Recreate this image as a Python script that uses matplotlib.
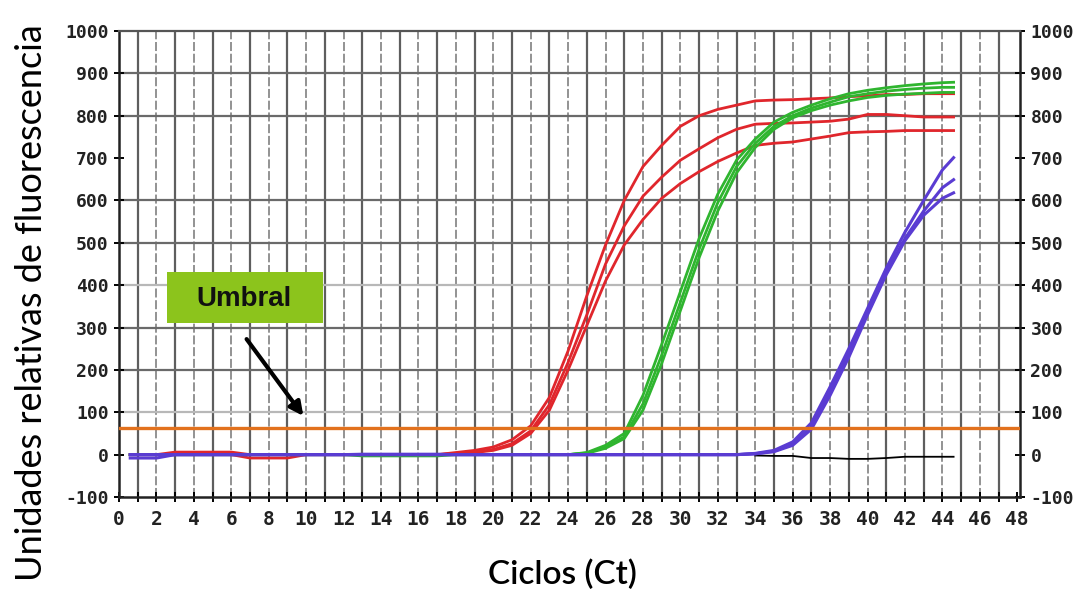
import matplotlib
matplotlib.use('Agg')
import matplotlib.pyplot as plt
from matplotlib.patches import Rectangle

plt.rcParams['axes.unicode_minus'] = False

# ciclos (0.6 = primer punto, 44.6 = ultimo)
cycles = [0.6] + list(range(1, 45)) + [44.6]

red_a = [0, 0, 0, 6, 6, 6, 6, 0, 0, 0, 0, 0, 0, 0, 0, 0, 0, 0,
         5, 10, 18, 35, 68, 135, 245, 375, 495, 600, 680, 730, 775, 800,
         815, 825, 835, 837, 838, 840, 842, 845, 847, 850, 850, 852, 852, 852]
red_b = [0, 0, 0, 0, 0, 0, 0, -8, -8, -8, 0, 0, 0, 0, 0, 0, 0, 0,
         3, 6, 12, 26, 56, 118, 218, 330, 450, 540, 610, 655, 695, 722,
         748, 768, 780, 782, 783, 785, 787, 792, 803, 803, 800, 797, 797, 797]
red_c = [0, 0, 0, 0, 0, 0, 0, 0, 0, 0, 0, 0, 0, 0, 0, 0, 0, 0,
         2, 5, 10, 22, 50, 105, 200, 305, 410, 495, 555, 605, 640, 668,
         692, 712, 730, 735, 738, 745, 752, 760, 762, 763, 765, 765, 765, 765]

green_a = [0, 0, 0, 0, 0, 0, 0, 0, 0, 0, 0, 0, 0, -3, -3, -3, -3, -3,
           0, 0, 0, 0, 0, 0, 0, 5, 22, 50, 140, 260, 385, 510,
           615, 695, 745, 785, 808, 825, 840, 852, 860, 866, 871, 875, 878, 879]
green_b = [0, 0, 0, 0, 0, 0, 0, 0, 0, 0, 0, 0, 0, 0, 0, 0, 0, 0,
           0, 0, 0, 0, 0, 0, 0, 4, 18, 42, 120, 235, 360, 485,
           595, 680, 735, 775, 800, 818, 832, 845, 852, 858, 862, 865, 867, 867]
green_c = [0, 0, 0, 0, 0, 0, 0, 0, 0, 0, 0, 0, 0, 0, 0, 0, 0, 0,
           0, 0, 0, 0, 0, 0, 0, 3, 15, 38, 105, 215, 340, 465,
           575, 665, 725, 768, 795, 812, 825, 835, 843, 848, 851, 853, 855, 855]

purple_a = [-8, -8, -8, 0, 0, 0, 0, 0, 0, 0, 0, 0, 0, 1, 1, 1, 1, 1,
            0, 0, 0, 0, 0, 0, 0, 0, 0, 0, 0, 0, 0, 0,
            0, 0, 3, 10, 30, 75, 160, 250, 345, 440, 525, 600, 672, 701]
purple_b = [0, 0, 0, 0, 0, 0, 0, 0, 0, 0, 0, 0, 0, 0, 0, 0, 0, 0,
            0, 0, 0, 0, 0, 0, 0, 0, 0, 0, 0, 0, 0, 0,
            0, 0, 2, 8, 25, 65, 150, 240, 335, 430, 510, 575, 630, 649]
purple_c = [0, 0, 0, 0, 0, 0, 0, 0, 0, 0, 0, 0, 0, 0, 0, 0, 0, 0,
            0, 0, 0, 0, 0, 0, 0, 0, 0, 0, 0, 0, 0, 0,
            0, 0, 2, 7, 22, 60, 140, 230, 330, 425, 505, 565, 605, 618]

black_cycles = [34, 35, 36, 37, 38, 39, 40, 41, 42, 43, 44, 44.6]
black_vals = [-2, -3, -3, -8, -8, -10, -10, -8, -5, -5, -5, -5]

threshold = 62
grid_levels = [100, 200, 300, 400, 500, 600, 800, 900]
light_levels = [100, 400]

fig = plt.figure(figsize=(10.77, 5.95), dpi=100)
ax = fig.add_axes([0.1105, 0.1647, 0.8366, 0.7832])
ax.set_xlim(0, 48.15)
ax.set_ylim(-100, 1000)

# rejilla
for c in range(1, 48):
    if c % 2:
        ax.axvline(c, color='#5e5e5e', lw=1.6, zorder=0)
    else:
        ax.axvline(c, color='#8a8a8a', lw=1.3, ls=(0, (5, 1.5)), zorder=0)
for lv in grid_levels:
    col = '#b8b8b8' if lv in light_levels else '#6a6a6a'
    ax.axhline(lv, color=col, lw=1.6, zorder=0)

ax.plot(black_cycles, black_vals, color='black', lw=1.3, zorder=2)
for s in (red_a, red_b, red_c):
    ax.plot(cycles, s, color='#e0262c', lw=2.0, zorder=3)
for s in (green_a, green_b, green_c):
    ax.plot(cycles, s, color='#2fb52f', lw=2.0, zorder=3)
for s in (purple_a, purple_b, purple_c):
    ax.plot(cycles, s, color='#5a3cd2', lw=2.2, zorder=4)

ax.axhline(threshold, color='#e2711d', lw=2.4, zorder=5)

# etiqueta Umbral
ax.add_patch(Rectangle((2.57, 310), 8.33, 121, facecolor='#8cc41c',
                       edgecolor='none', zorder=6))
ax.text(6.7, 368, 'Umbral', ha='center', va='center', fontsize=20,
        fontweight='bold', family='Liberation Sans', color='#111111', zorder=7)
ax.annotate('', xy=(9.94, 86), xytext=(6.73, 278),
            arrowprops=dict(arrowstyle='-|>,head_length=0.8,head_width=0.4',
                            color='black', lw=3), zorder=7)

ax.set_xticks(range(0, 49, 2))
ax.set_xticks(range(0, 49), minor=True)
ax.set_yticks(range(-100, 1001, 100))
ax.tick_params(axis='both', which='both', direction='inout', colors='black')
ax.tick_params(axis='x', which='major', length=7, width=1.4, pad=6)
ax.tick_params(axis='x', which='minor', length=7, width=1.4)
ax.tick_params(axis='y', length=7, width=1.4, pad=4, right=True, labelright=True)
for lab in ax.get_xticklabels() + ax.get_yticklabels():
    lab.set_family('DejaVu Sans Mono')
    lab.set_fontweight('bold')
    lab.set_fontsize(13)
    lab.set_color('#222222')
ax.tick_params(axis='x', labelsize=14)

for side in ('left', 'right', 'bottom'):
    ax.spines[side].set_color('#222222')
    ax.spines[side].set_linewidth(1.8)
ax.spines['top'].set_color('#555555')
ax.spines['top'].set_linewidth(1.6)

fig.text(0.029, 0.492, 'Unidades relativas de fluorescencia', rotation=90,
         ha='center', va='center', fontsize=26, family='Lato')
fig.text(0.522, 0.034, 'Ciclos (Ct)', ha='center', va='center', fontsize=24,
         family='Lato', fontweight='semibold')

fig.savefig('out.png', dpi=100, facecolor='white')
